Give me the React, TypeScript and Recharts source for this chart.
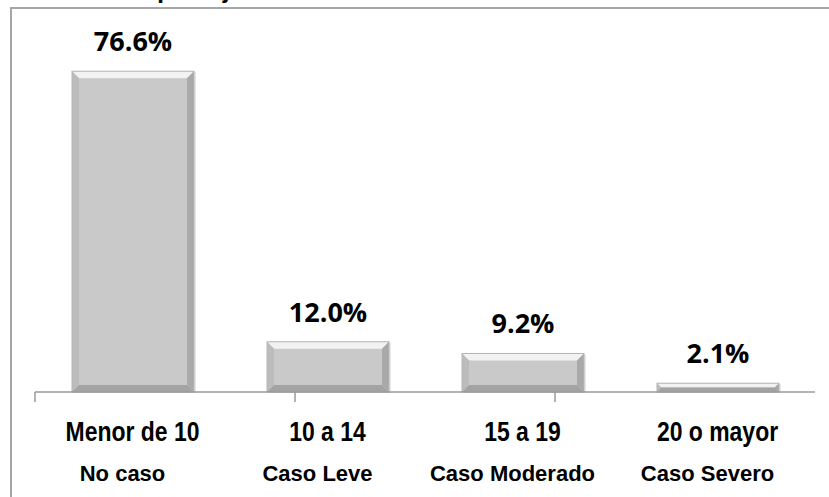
import React from "react";
import { BarChart, Bar, XAxis, YAxis, LabelList } from "recharts";

// Puntaje agrupado por rango y su clasificación
const rangos = ["Menor de 10", "10 a 14", "15 a 19", "20 o mayor"];
const casos = ["No caso", "Caso Leve", "Caso Moderado", "Caso Severo"];
const porcentajes = [76.6, 12.0, 9.2, 2.1];
const limites = [0, 1, 2, 3, 4];

const data = rangos.map((rango, i) => ({
  rango,
  caso: casos[i],
  pct: porcentajes[i],
}));

// barra gris con bisel (borde superior claro, lados y base oscuros)
const BevelBar = (props: any) => {
  const { x, y, width, height } = props;
  if (!height || height <= 0) return null;
  const b = Math.min(7, height / 2);
  return (
    <g>
      <rect x={x + 2} y={y + 1} width={width} height={height} fill="#d9d9d9" opacity={0.6} />
      <rect x={x} y={y} width={width} height={height} fill="#c9c9c9" />
      <polygon
        points={`${x},${y} ${x + width},${y} ${x + width - b},${y + b} ${x + b},${y + b}`}
        fill="#f2f2f2"
      />
      <polygon
        points={`${x},${y} ${x + b},${y + b} ${x + b},${y + height - b} ${x},${y + height}`}
        fill="#bcbcbc"
      />
      <polygon
        points={`${x + width},${y} ${x + width - b},${y + b} ${x + width - b},${y + height - b} ${x + width},${y + height}`}
        fill="#a9a9a9"
      />
      <polygon
        points={`${x},${y + height} ${x + b},${y + height - b} ${x + width - b},${y + height - b} ${x + width},${y + height}`}
        fill="#a3a3a3"
      />
      <rect x={x} y={y} width={width} height={height} fill="none" stroke="#b5b5b5" strokeWidth={1} />
    </g>
  );
};

const ValueLabel = (props: any) => {
  const { x, y, width, value } = props;
  return (
    <text
      x={x + width / 2}
      y={y - 20}
      textAnchor="middle"
      fontFamily="'Open Sans', sans-serif"
      fontWeight={700}
      fontSize={27}
      fill="#000"
    >
      {`${Number(value).toFixed(1)}%`}
    </text>
  );
};

// sin texto en el eje de límites, solo las marcas
const EmptyTick = () => <g />;

const CategoryTick = (props: any) => {
  const { x, y, payload, index } = props;
  return (
    <g>
      <text
        x={0}
        y={y + 48}
        textAnchor="middle"
        fontFamily="'Liberation Sans', Arial, sans-serif"
        fontWeight={700}
        fontSize={28}
        fill="#000"
        transform={`translate(${x},0) scale(0.82,1)`}
      >
        {payload.value}
      </text>
      <text
        x={x - 10}
        y={y + 88}
        textAnchor="middle"
        fontFamily="'Liberation Sans', Arial, sans-serif"
        fontWeight={700}
        fontSize={22}
        fill="#000"
      >
        {casos[index]}
      </text>
    </g>
  );
};

export default function App() {
  return (
    <div
      style={{
        position: "absolute",
        left: 0,
        top: 0,
        width: 829,
        height: 497,
        overflow: "hidden",
        background: "#fff",
      }}
    >
      <div
        style={{
          position: "absolute",
          left: 0,
          top: -22,
          width: 829,
          whiteSpace: "nowrap",
          fontFamily: "'Liberation Sans', Arial, sans-serif",
          fontWeight: 700,
          fontSize: 24,
          lineHeight: "24px",
          color: "#000",
        }}
      >
        stribución de puntaje en el test de Hamilton de Ansiedad
      </div>
      <div
        style={{
          position: "absolute",
          left: 10,
          top: 7,
          width: 840,
          height: 510,
          borderTop: "2px solid #a6a6a6",
          borderLeft: "2px solid #a6a6a6",
        }}
      />
      <div style={{ position: "absolute", left: 0, top: 0 }}>
        <BarChart
          width={829}
          height={497}
          data={data}
          margin={{ top: 57, right: 14, bottom: 4, left: 35 }}
        >
          <XAxis
            xAxisId="limites"
            type="number"
            domain={[0, 4]}
            ticks={limites}
            tick={<EmptyTick />}
            tickSize={10}
            height={1}
            axisLine={{ stroke: "#9a9a9a", strokeWidth: 1.5 }}
            tickLine={{ stroke: "#9a9a9a", strokeWidth: 1.5 }}
          />
          <XAxis
            xAxisId="rangos"
            dataKey="rango"
            height={100}
            axisLine={false}
            tickLine={false}
            tickSize={0}
            tickMargin={0}
            interval={0}
            tick={<CategoryTick />}
          />
          <YAxis hide domain={[0, 80]} />
          <Bar
            xAxisId="rangos"
            dataKey="pct"
            barSize={122}
            shape={<BevelBar />}
            isAnimationActive={false}
          >
            <LabelList dataKey="pct" content={<ValueLabel />} />
          </Bar>
        </BarChart>
      </div>
    </div>
  );
}
